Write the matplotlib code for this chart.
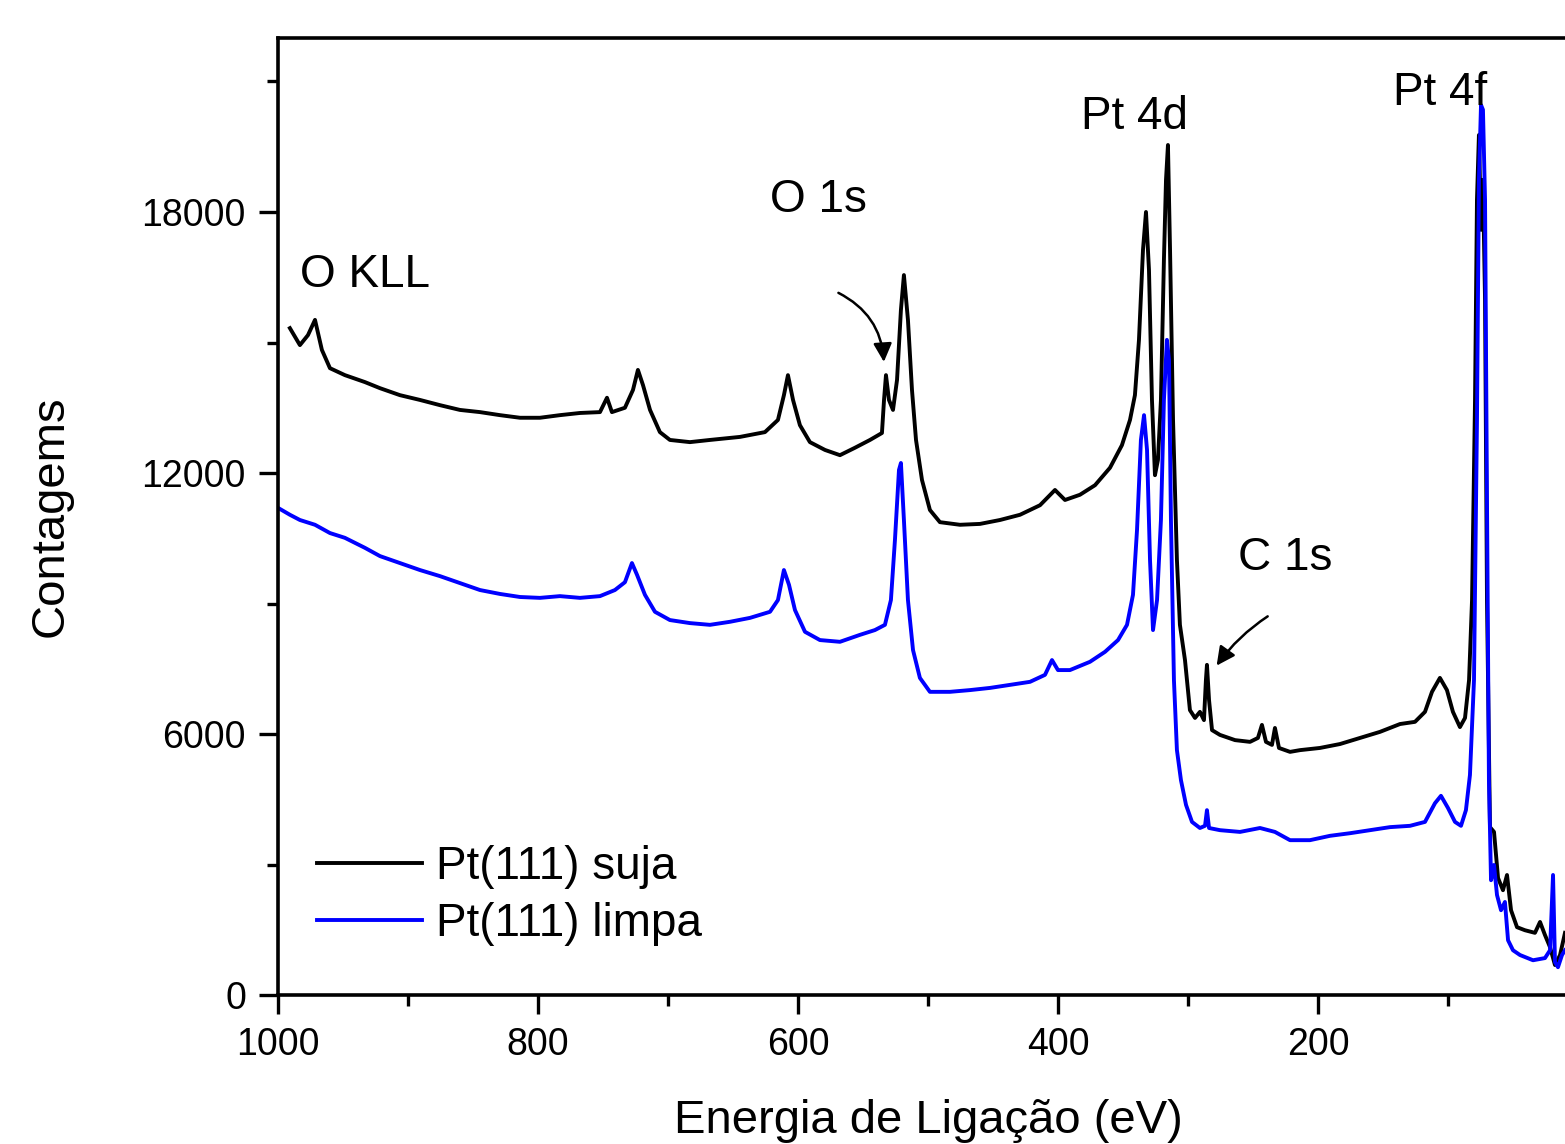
import matplotlib.pyplot as plt
from matplotlib.ticker import MultipleLocator

plt.rcParams['font.family'] = ['Liberation Sans', 'DejaVu Sans']

# Pt(111) suja (black)
energia_suja = [990.8, 983.1, 976.9, 971.5, 966.2, 960.0, 948.5, 933.1, 921.5, 906.2,
                890.8, 875.4, 860.0, 844.6, 829.2, 813.8, 798.5, 783.1, 767.7, 752.3,
                746.9, 743.1, 733.1, 726.9, 723.1, 719.2, 713.8, 706.2, 698.5, 683.1,
                667.7, 644.6, 625.4, 615.4, 610.8, 607.7, 603.8, 598.5, 590.8, 579.2,
                567.7, 556.2, 544.6, 535.4, 533.8, 532.3, 530.0, 526.9, 523.8, 520.8,
                518.5, 515.4, 512.3, 509.2, 504.6, 498.5, 490.8, 475.4, 460.0, 444.6,
                429.2, 413.8, 402.3, 394.6, 383.1, 371.5, 360.0, 350.8, 344.6, 340.8,
                337.7, 334.6, 332.3, 330.0, 327.7, 325.4, 323.1, 320.8, 318.5, 316.9,
                315.4, 313.8, 311.5, 308.5, 306.2, 302.3, 298.5, 294.6, 290.8, 287.7,
                286.2, 285.4, 283.8, 281.5, 275.4, 263.8, 252.3, 246.2, 243.1, 240.0,
                235.4, 233.1, 230.0, 221.5, 213.8, 198.5, 183.1, 167.7, 152.3, 136.9,
                125.4, 117.7, 112.3, 106.2, 100.8, 96.2, 90.8, 86.9, 83.8, 81.5,
                79.2, 77.7, 76.2, 74.6, 73.1, 71.5, 70.0, 67.7, 64.6, 61.5,
                57.7, 54.6, 51.5, 46.9, 40.8, 33.1, 29.2, 25.4, 21.5, 17.7,
                13.8, 10.0]
contagens_suja = [15330, 14940, 15170, 15520, 14830, 14410, 14250, 14090, 13950, 13790,
                  13680, 13560, 13450, 13400, 13330, 13270, 13270, 13330, 13380, 13400,
                  13730, 13400, 13500, 13910, 14370, 14020, 13450, 12940, 12760, 12710,
                  12760, 12830, 12940, 13220, 13790, 14250, 13680, 13100, 12710, 12530,
                  12410, 12580, 12760, 12920, 13680, 14250, 13680, 13450, 14140, 15750,
                  16550, 15520, 13910, 12760, 11840, 11150, 10870, 10810, 10830, 10920,
                  11040, 11260, 11610, 11380, 11500, 11720, 12120, 12640, 13220, 13790,
                  15060, 17130, 18000, 16670, 13680, 11950, 12300, 13680, 16900, 18740,
                  19540, 17130, 13220, 10000, 8510, 7700, 6550, 6370, 6510, 6320,
                  7240, 7590, 6780, 6090, 5980, 5860, 5820, 5910, 6210, 5820,
                  5750, 6140, 5680, 5590, 5630, 5680, 5770, 5910, 6050, 6230,
                  6280, 6510, 6970, 7290, 7010, 6510, 6160, 6370, 7240, 9080,
                  13680, 18280, 19770, 17590, 18740, 15980, 9080, 3860, 3750, 2690,
                  2410, 2760, 1950, 1560, 1490, 1430, 1680, 1380, 1100, 690,
                  920, 1430]

# Pt(111) limpa (blue)
energia_limpa = [1000.0, 990.8, 983.1, 971.5, 960.0, 948.5, 933.1, 921.5, 906.2, 890.8,
                 875.4, 860.0, 844.6, 829.2, 813.8, 798.5, 783.1, 767.7, 752.3, 740.8,
                 733.1, 727.7, 723.8, 717.7, 710.0, 698.5, 683.1, 667.7, 652.3, 636.9,
                 621.5, 615.4, 610.8, 606.9, 602.3, 594.6, 583.1, 567.7, 552.3, 540.8,
                 533.1, 528.5, 525.4, 522.3, 520.8, 518.5, 515.4, 511.5, 506.2, 498.5,
                 483.1, 467.7, 452.3, 436.9, 421.5, 410.0, 404.6, 400.0, 390.8, 375.4,
                 363.8, 353.8, 346.9, 342.3, 339.2, 336.2, 333.8, 331.5, 329.2, 326.9,
                 323.8, 320.8, 318.5, 316.2, 314.6, 313.1, 310.8, 308.5, 305.4, 301.5,
                 296.9, 290.8, 286.9, 285.4, 283.8, 275.4, 260.0, 244.6, 233.1, 221.5,
                 206.2, 190.8, 175.4, 160.0, 144.6, 129.2, 117.7, 110.0, 105.4, 100.0,
                 94.6, 90.0, 86.2, 83.1, 80.0, 77.7, 76.2, 74.6, 73.1, 71.5,
                 70.0, 68.5, 66.9, 64.6, 62.3, 59.2, 56.2, 53.8, 50.0, 44.6,
                 34.6, 25.4, 21.5, 19.2, 17.7, 15.4, 12.3, 10.0]
contagens_limpa = [11200, 11040, 10920, 10810, 10620, 10510, 10280, 10090, 9930, 9770,
                   9630, 9470, 9310, 9220, 9150, 9130, 9170, 9130, 9170, 9310,
                   9490, 9930, 9660, 9200, 8810, 8620, 8550, 8510, 8580, 8670,
                   8810, 9080, 9770, 9430, 8850, 8350, 8160, 8120, 8280, 8390,
                   8510, 9080, 10460, 12070, 12230, 10920, 9080, 7930, 7290, 6970,
                   6970, 7010, 7060, 7130, 7200, 7360, 7700, 7470, 7470, 7660,
                   7890, 8160, 8510, 9200, 10690, 12760, 13330, 12530, 10000, 8390,
                   9080, 10920, 13680, 15060, 14600, 10920, 7240, 5630, 4940, 4370,
                   3980, 3840, 3890, 4250, 3840, 3790, 3750, 3840, 3750, 3560,
                   3560, 3660, 3720, 3790, 3860, 3890, 3980, 4410, 4580, 4300,
                   3980, 3890, 4250, 5060, 7240, 13220, 18740, 20460, 20350, 18280,
                   11380, 4940, 2640, 2990, 2300, 1950, 2140, 1260, 1030, 920,
                   800, 850, 1030, 2760, 760, 640, 920, 1030]

xticks = [1000, 800, 600, 400, 200]

fig = plt.figure(figsize=(15.65, 11.44), dpi=100)
ax = fig.add_axes([0.1776, 0.1302, 0.8307, 0.8366])

ax.plot(energia_suja, contagens_suja, color='black', lw=2.8, label='Pt(111) suja')
ax.plot(energia_limpa, contagens_limpa, color='#0000ff', lw=2.8, label='Pt(111) limpa')

ax.set_xlim(1000, 0)
ax.set_ylim(0, 22000)
ax.set_xticks(xticks)
ax.set_xticks([900, 700, 500, 300, 100], minor=True)
ax.yaxis.set_major_locator(MultipleLocator(6000))
ax.yaxis.set_minor_locator(MultipleLocator(3000))
ax.tick_params(which='major', direction='out', length=14, width=2.4, labelsize=27, pad=9)
ax.tick_params(which='minor', direction='out', length=8, width=2.4)
ax.tick_params(top=False, right=False)
for s in ax.spines.values():
    s.set_linewidth(2.6)
ax.spines['right'].set_visible(False)

ax.set_xlabel('Energia de Ligação (eV)', fontsize=34, labelpad=26)
ax.set_ylabel('Contagems', fontsize=34, labelpad=50)

# peak labels
ax.text(983, 16560, 'O KLL', fontsize=33, ha='left', va='center')
ax.text(584.6, 18280, 'O 1s', fontsize=33, ha='center', va='center')
ax.text(341.5, 20190, 'Pt 4d', fontsize=33, ha='center', va='center')
ax.text(225.4, 10050, 'C 1s', fontsize=33, ha='center', va='center')
ax.text(106, 20740, 'Pt 4f', fontsize=33, ha='center', va='center')

ax.annotate('', xy=(533.8, 14490), xytext=(570.8, 16170),
            arrowprops=dict(arrowstyle='-|>', color='black', lw=1.8, mutation_scale=28,
                            connectionstyle='arc3,rad=-0.3'))
ax.annotate('', xy=(279.2, 7520), xytext=(236.9, 8740),
            arrowprops=dict(arrowstyle='-|>', color='black', lw=1.8, mutation_scale=28,
                            connectionstyle='arc3,rad=0.1'))

ax.legend(loc='upper left', bbox_to_anchor=(0.03, 0.157), frameon=False, fontsize=33,
          handlelength=2.3, handletextpad=0.3, labelspacing=0.28, borderpad=0,
          borderaxespad=0)

fig.savefig('out.png', dpi=100)
